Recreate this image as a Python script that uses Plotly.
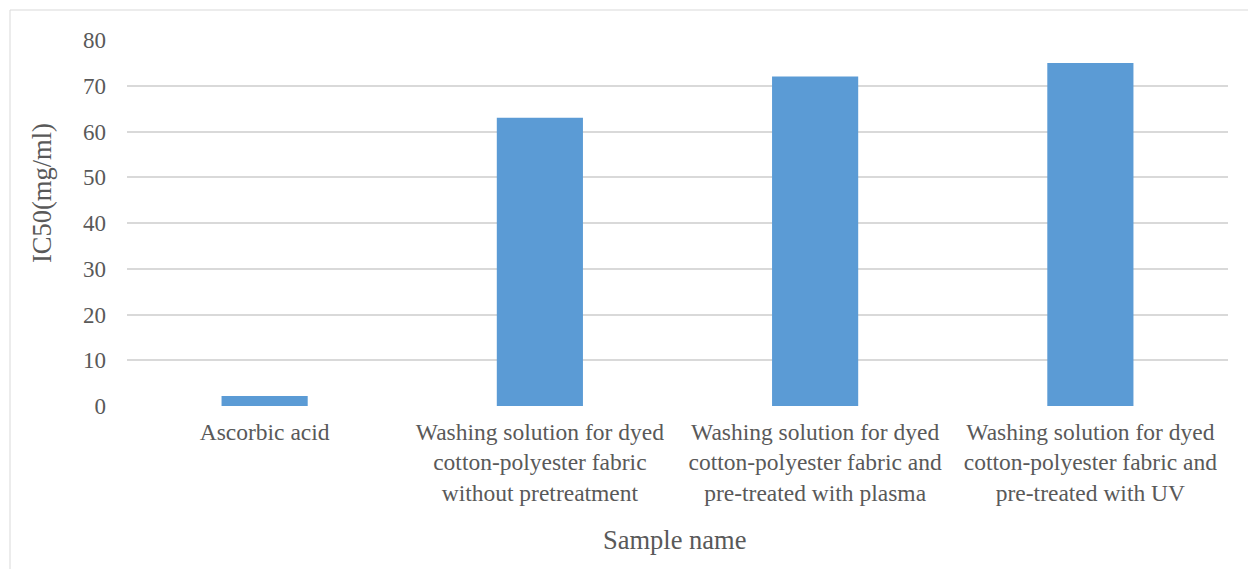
import plotly.graph_objects as go

categories = [
    "Ascorbic acid",
    "Washing solution for dyed<br>cotton-polyester fabric<br>without pretreatment",
    "Washing solution for dyed<br>cotton-polyester fabric and<br>pre-treated with plasma",
    "Washing solution for dyed<br>cotton-polyester fabric and<br>pre-treated with UV",
]
values = [2.2, 63, 72, 75]
y_ticks = [0, 10, 20, 30, 40, 50, 60, 70, 80]

W, H = 1248, 569
L, R, T, B = 127, 20, 40, 163
pw, ph = W - L - R, H - T - B

font_family = "Liberation Serif, Times New Roman, serif"
gray = "#595959"

fig = go.Figure(go.Bar(
    x=categories, y=values, marker=dict(color="#5b9bd5", line=dict(width=0)),
))

def px_x(p):
    return (p - L) / pw

def px_y(p):
    return (H - B - p) / ph

fig.update_layout(
    width=W, height=H,
    margin=dict(l=L, r=R, t=T, b=B, autoexpand=False),
    paper_bgcolor="white", plot_bgcolor="white",
    bargap=0.687,
    showlegend=False,
    font=dict(family=font_family, color=gray),
    xaxis=dict(
        showgrid=False, zeroline=False, showline=False, ticks="",
        tickfont=dict(size=23.5, color=gray, family=font_family),
        ticklabelstandoff=9,
        automargin=False,
    ),
    yaxis=dict(
        range=[0, 80], tickvals=y_ticks, showgrid=True, gridcolor="#d9d9d9", gridwidth=1.5,
        zeroline=False, showline=False, ticks="",
        tickfont=dict(size=23, color=gray, family=font_family),
        ticklabelstandoff=20, automargin=False,
    ),
    annotations=[
        dict(text="IC50(mg/ml)", x=px_x(42), y=px_y(193), xref="paper", yref="paper",
             textangle=-90, showarrow=False, font=dict(size=26.5, color=gray, family=font_family),
             xanchor="center", yanchor="middle"),
        dict(text="Sample name", x=px_x(675), y=px_y(540), xref="paper", yref="paper",
             showarrow=False, font=dict(size=26.5, color=gray, family=font_family),
             xanchor="center", yanchor="middle"),
    ],
    shapes=[
        dict(type="rect", xref="paper", yref="paper",
             x0=px_x(10), x1=px_x(1265), y0=px_y(590), y1=px_y(10),
             line=dict(color="#d9d9d9", width=1), layer="below"),
    ],
)

fig.write_html("out.html")
